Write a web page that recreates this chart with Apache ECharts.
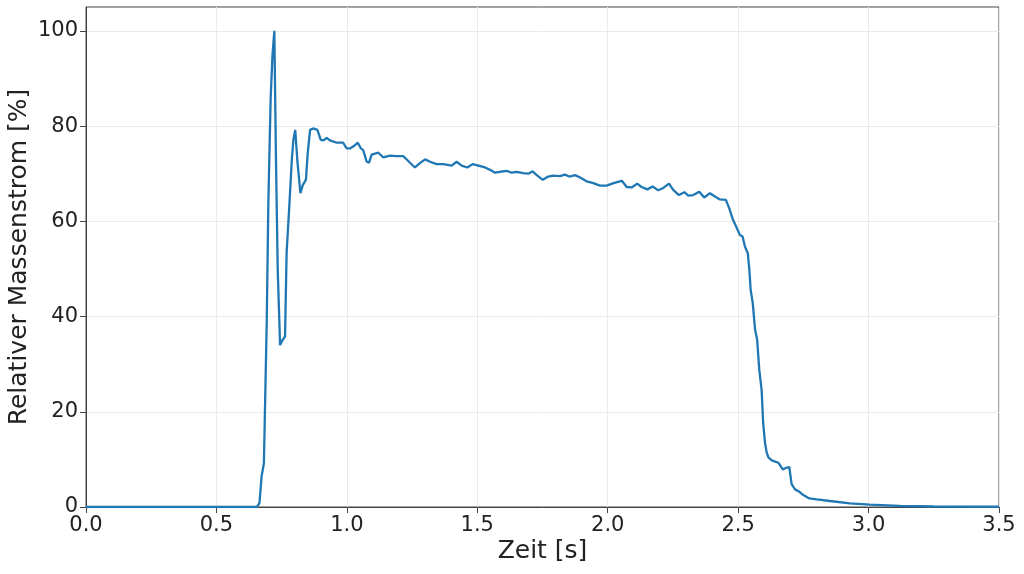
<!DOCTYPE html>
<html>
<head>
<meta charset="utf-8">
<script src="https://cdn.jsdelivr.net/npm/echarts@6/dist/echarts.min.js"></script>
<style>html,body{margin:0;padding:0;background:#fff}#c{width:1024px;height:574px}</style>
</head>
<body>
<div id="c"></div>
<script>
const xTicks = [0, 0.5, 1, 1.5, 2, 2.5, 3, 3.5];
const yTicks = [0, 20, 40, 60, 80, 100];
const zeit = [0, 0.3, 0.6, 0.655, 0.665, 0.673, 0.682, 0.693, 0.699, 0.708, 0.715, 0.722, 0.728, 0.735, 0.744, 0.754, 0.763, 0.769, 0.780, 0.789, 0.795, 0.802, 0.811, 0.822, 0.831, 0.843, 0.850, 0.859, 0.871, 0.887, 0.900, 0.910, 0.923, 0.935, 0.961, 0.986, 0.999, 1.012, 1.027, 1.042, 1.054, 1.063, 1.076, 1.085, 1.095, 1.101, 1.121, 1.140, 1.165, 1.191, 1.216, 1.223, 1.242, 1.261, 1.280, 1.300, 1.319, 1.344, 1.370, 1.402, 1.421, 1.440, 1.462, 1.482, 1.504, 1.530, 1.549, 1.568, 1.587, 1.613, 1.632, 1.651, 1.676, 1.696, 1.712, 1.728, 1.751, 1.772, 1.791, 1.817, 1.836, 1.853, 1.875, 1.894, 1.919, 1.945, 1.970, 1.996, 2.022, 2.054, 2.073, 2.092, 2.113, 2.130, 2.152, 2.172, 2.194, 2.213, 2.235, 2.251, 2.273, 2.294, 2.309, 2.328, 2.351, 2.370, 2.392, 2.411, 2.430, 2.453, 2.466, 2.481, 2.494, 2.507, 2.517, 2.526, 2.537, 2.543, 2.548, 2.556, 2.565, 2.573, 2.581, 2.590, 2.596, 2.603, 2.609, 2.616, 2.629, 2.654, 2.671, 2.683, 2.696, 2.705, 2.718, 2.735, 2.750, 2.773, 2.801, 2.852, 2.929, 3.005, 3.12, 3.25, 3.5];
const massenstrom = [0, 0, 0, 0, 0.8, 6.4, 9.2, 39.3, 63.8, 86, 95, 100, 74, 49.8, 34, 35.1, 35.8, 53.3, 63.8, 72.9, 77.1, 79.2, 72.2, 65.9, 67.6, 68.7, 74.3, 79.2, 79.5, 79.2, 77.1, 77.0, 77.5, 77.0, 76.5, 76.5, 75.3, 75.3, 75.8, 76.5, 75.3, 74.9, 72.5, 72.3, 74.0, 74.3, 74.4, 73.4, 73.8, 73.7, 73.7, 73.6, 72.3, 71.3, 72.2, 73.0, 72.5, 72.0, 72.0, 71.7, 72.5, 71.7, 71.3, 72.0, 71.7, 71.3, 70.8, 70.2, 70.4, 70.6, 70.2, 70.4, 70.1, 70.0, 70.5, 69.7, 68.7, 69.4, 69.6, 69.5, 69.8, 69.4, 69.7, 69.2, 68.4, 68.0, 67.5, 67.5, 68.0, 68.5, 67.2, 67.1, 67.9, 67.2, 66.7, 67.3, 66.5, 67.0, 67.9, 66.6, 65.5, 66.1, 65.4, 65.5, 66.2, 65.0, 65.9, 65.2, 64.6, 64.5, 62.7, 60.2, 58.7, 57.1, 56.8, 54.7, 53.3, 49.8, 45.6, 42.8, 37.2, 35.1, 28.8, 24.6, 17.6, 13.5, 11.5, 10.4, 9.8, 9.3, 7.9, 8.2, 8.4, 4.8, 3.7, 3.2, 2.5, 1.8, 1.6, 1.26, 0.77, 0.49, 0.22, 0.1, 0.05];

const font = 'DejaVu Sans';
const chart = echarts.init(document.getElementById('c'), null, {renderer: 'canvas'});
chart.setOption({
  animation: false,
  grid: {left: 86, right: 25, top: 7, bottom: 67, outerBoundsMode: 'none', containLabel: false, show: true, borderColor: '#444', borderWidth: 1, backgroundColor: 'transparent'},
  xAxis: {
    type: 'value', min: 0, max: 3.5, interval: 0.5,
    name: 'Zeit [s]', nameLocation: 'middle', nameGap: 32, nameMoveOverlap: false,
    nameTextStyle: {fontFamily: font, fontSize: 25, color: '#222'},
    axisLine: {show: true, lineStyle: {color: '#444', width: 1}},
    axisTick: {show: true, length: 6, inside: false, lineStyle: {color: '#444'}},
    axisLabel: {fontFamily: font, fontSize: 21, color: '#222', margin: 8, formatter: v => v.toFixed(1)},
    splitLine: {show: true, lineStyle: {color: '#ebebeb', width: 1}}
  },
  yAxis: {
    type: 'value', min: 0, max: 105, interval: 20,
    name: 'Relativer Massenstrom [%]', nameLocation: 'middle', nameGap: 54, nameMoveOverlap: false,
    nameTextStyle: {fontFamily: font, fontSize: 25, color: '#222'},
    axisLine: {show: true, lineStyle: {color: '#444', width: 1}},
    axisTick: {show: true, length: 6, customValues: yTicks, lineStyle: {color: '#444'}},
    axisLabel: {fontFamily: font, fontSize: 21, color: '#222', margin: 8, customValues: yTicks, formatter: v => String(v)},
    splitLine: {show: true, lineStyle: {color: '#ebebeb', width: 1}}
  },
  series: [{
    type: 'line',
    data: zeit.map((t, i) => [t, massenstrom[i]]),
    showSymbol: false,
    lineStyle: {color: '#1f77b4', width: 2.3},
    itemStyle: {color: '#1f77b4'}
  }]
});
</script>
</body>
</html>
